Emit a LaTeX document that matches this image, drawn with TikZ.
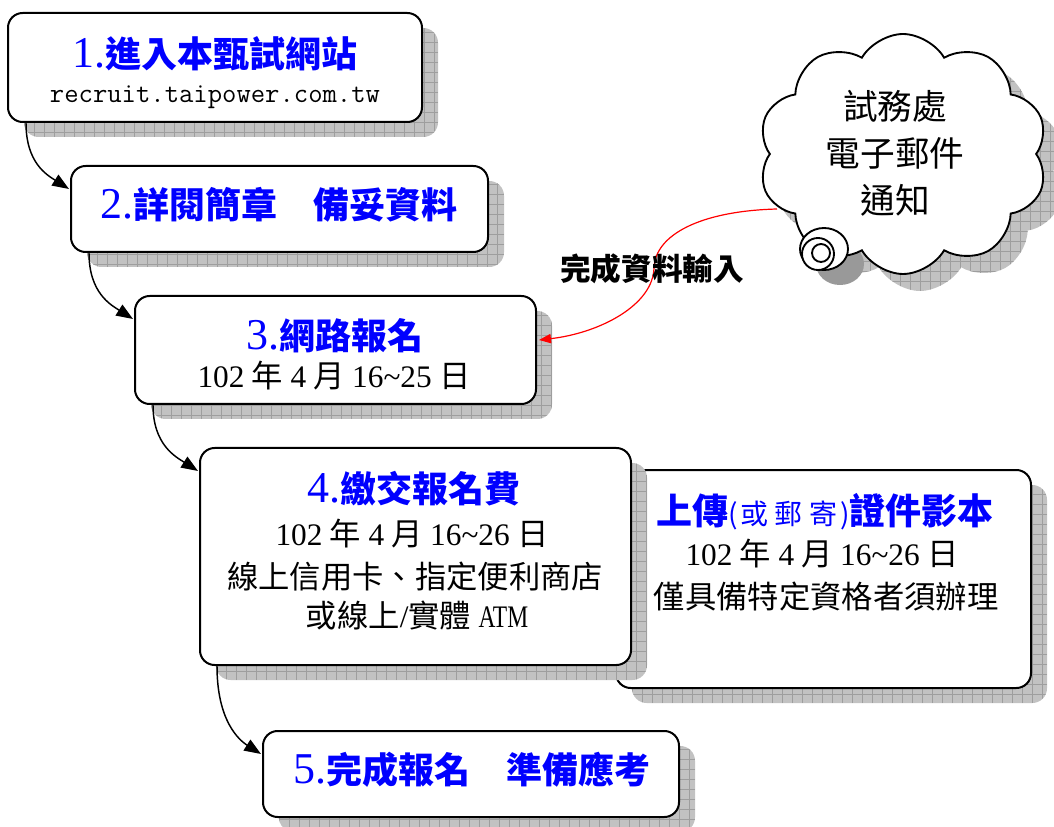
\documentclass[tikz,border=0pt]{standalone}
\usepackage{fontspec}
\usepackage{graphicx}
\setmainfont{Noto Sans CJK TC}
\newfontfamily\lat{Liberation Serif}
\usetikzlibrary{arrows.meta,shapes.symbols,fit,calc}
\definecolor{ttlblue}{RGB}{0,0,255}
\newcommand\nar[1]{{\fontsize{23.5pt}{28pt}\selectfont\lat\mdseries #1}}
\newcommand\tnum[1]{{\fontsize{33pt}{36pt}\selectfont\lat\mdseries #1}}
\newcommand\gap{\hspace{5.5pt}}
\begin{document}
\begin{tikzpicture}[x=0.75pt,y=-0.75pt,
  box/.style={draw=black, line width=1.5pt, fill=white, rounded corners=11pt, inner sep=0pt},
  gridfill/.style={fill=black!24, draw=none, path picture={\draw[black!38, line width=0.4pt] (path picture bounding box.south west) grid[step=7.5pt] (path picture bounding box.north east);}},
  shadowbox/.style={gridfill, rounded corners=11pt, inner sep=0pt},
  ttl/.style={font=\fontsize{27pt}{32pt}\selectfont\bfseries, text=ttlblue, inner sep=0pt},
  sub/.style={font=\fontsize{23.5pt}{28pt}\selectfont, text=black, inner sep=0pt},
  urltxt/.style={font=\fontsize{20.9pt}{25pt}\selectfont\ttfamily, text=black, inner sep=0pt},
  cloudtxt/.style={font=\fontsize{26pt}{35.25pt}\selectfont, text=black, inner sep=0pt, align=center},
  lbl/.style={font=\fontsize{23pt}{28pt}\selectfont\bfseries, text=black, inner sep=0pt},
  cloudshape/.style={cloud, cloud puffs=10, cloud puff arc=120, aspect=1.2, minimum width=217pt, minimum height=180pt, inner sep=0pt},
  conn/.style={draw=black, line width=1.1pt, -{Triangle[length=12.5pt,width=9.5pt]}},
  redconn/.style={draw=red, line width=0.9pt, -{Triangle[length=9pt,width=7pt]}},
  cloudline/.style={draw=black, line width=1.4pt, fill=white}
]
\useasboundingbox (0,0) rectangle (1054,827);

% shadows (back layer)
\node[shadowbox, fit={(24,28) (438,137)}] (s1) {};
\node[shadowbox, fit={(87,181) (504,267)}] (s2) {};
\node[shadowbox, fit={(151,311) (552,419)}] (s3) {};
\node[shadowbox, fit={(279,746) (695,832)}] (s5) {};
\node[shadowbox, fit={(632,485) (1047,703)}] (sS) {};
\node[cloudshape, gridfill] (cs) at (920,171) {};
\fill[black!40] (840,264) ellipse [x radius=24, y radius=21];

% boxes
\node[box, fit={(8,13) (422,122)}] (b1) {};
\node[box, fit={(71,166) (488,252)}] (b2) {};
\node[box, fit={(135,296) (536,404)}] (b3) {};
\node[box, fit={(616,470) (1031,688)}] (bS) {};
\node[shadowbox, fit={(216,463) (647,680)}] (s4) {};
\node[box, fit={(200,448) (631,665)}] (b4) {};
\node[box, fit={(263,731) (679,817)}] (b5) {};

% cloud
\node[cloudshape, cloudline] (cl) at (903,154) {};
\draw[cloudline] (824,249) ellipse [x radius=24, y radius=21];
\draw[cloudline] (818,254) circle [radius=16];
\draw[cloudline] (821,253) circle [radius=9];

% texts
\node[ttl] (t1) at (215,54) {\tnum{1.}進入本甄試網站};
\node[urltxt] (u1) at (215,97) {recruit.taipower.com.tw};
\node[ttl] (t2) at (279,205) {\tnum{2.}詳閱簡章　備妥資料};
\node[ttl] (t3) at (335,336) {\tnum{3.}網路報名};
\node[sub] (d3) at (334,376) {\nar{102}\gap 年\gap\nar{4}\gap 月\gap\nar{16\textasciitilde 25}\gap 日};
\node[ttl] (t4) at (414,489) {\tnum{4.}繳交報名費};
\node[sub] (d4a) at (412,534) {\nar{102}\gap 年\gap\nar{4}\gap 月\gap\nar{16\textasciitilde 26}\gap 日};
\node[sub] (d4b) at (415,577) {線上信用卡、指定便利商店};
\node[sub] (d4c) at (417,616) {或線上\nar{/}實體\gap\scalebox{0.75}[1]{\nar{ATM}}};
\node[ttl] (tS) at (825,512) {上傳{\mdseries\fontsize{21pt}{24pt}\selectfont(\hspace{2pt}或\hspace{5pt}郵\hspace{5pt}寄\hspace{2pt})}證件影本};
\node[sub] (dSa) at (822,554) {\nar{102}\gap 年\gap\nar{4}\gap 月\gap\nar{16\textasciitilde 26}\gap 日};
\node[sub] (dSb) at (826,597) {僅具備特定資格者須辦理};
\node[ttl] (t5) at (472,770) {\tnum{5.}完成報名　準備應考};
\node[cloudtxt] (ct) at (895,153) {試務處\\電子郵件\\通知};

% connectors
\draw[conn] ($(b1.south west)+(19,0)$) .. controls +(0,40) and +(-22,-14) .. ($(b2.north west)+(-1,24)$);
\draw[conn] ($(b2.south west)+(19,0)$) .. controls +(0,40) and +(-22,-14) .. ($(b3.north west)+(-1,24)$);
\draw[conn] ($(b3.south west)+(19,0)$) .. controls +(0,40) and +(-22,-14) .. ($(b4.north west)+(-1,24)$);
\draw[conn] ($(b4.south west)+(18,0)$) .. controls +(0,55) and +(-22,-14) .. ($(b5.north west)+(-1,24)$);

\coordinate (rs) at (777,209);
\coordinate (rm) at (654,268);
\draw[redconn] (rs) .. controls (700,211) and (655,235) .. (rm) .. controls (653,305) and (600,333) .. ($(b3.east)+(2,-10)$);
\node[lbl] (lb) at (652,269) {完成資料輸入};
\end{tikzpicture}
\end{document}
